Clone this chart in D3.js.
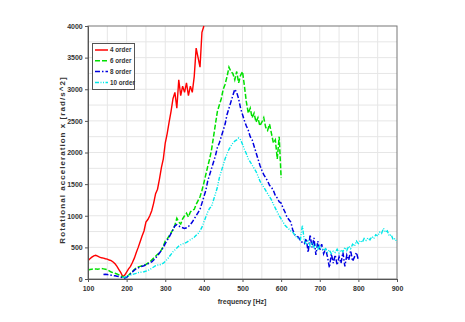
<!DOCTYPE html>
<html><head><meta charset="utf-8">
<script src="https://cdn.jsdelivr.net/npm/d3@7"></script>
<style>body{margin:0;background:#fff;} text{font-family:"Liberation Sans",Arial,sans-serif;}</style>
</head><body><svg id="c" width="465" height="322"></svg>
<script>
const xTicks = [100,200,300,400,500,600,700,800,900];
const yTicks = [0,500,1000,1500,2000,2500,3000,3500,4000];
const seriesNames = ["4 order","6 order","8 order","10 order"];
const seriesColors = ["#ff0000","#00e000","#0000e0","#00e8e8"];

const freq4 = d3.range(100,401,5);
const order4 = [290,320,345,365,375,360,345,335,330,320,315,300,290,270,240,200,150,100,40,60,110,160,200,260,330,420,500,590,680,760,900,940,1000,1080,1200,1350,1420,1580,1760,1900,2150,2300,2480,2650,2850,2950,2700,3150,2900,3050,2950,3100,2900,3050,2950,3200,3650,3500,3350,3900,4000];

const freq6 = d3.range(100,601,5);
const order6 = [140,150,155,160,160,155,160,165,160,155,150,130,110,100,90,80,65,50,35,20,30,60,90,120,150,175,190,200,210,220,230,250,270,300,330,360,390,410,460,520,600,630,680,730,780,850,960,900,870,950,1000,1040,980,1060,1090,1100,1180,1240,1300,1400,1520,1650,1780,1900,2050,2250,2450,2650,2750,2850,3000,3080,3200,3350,3280,3250,3150,3280,3100,3220,3280,3050,2800,2620,2700,2550,2620,2480,2550,2420,2480,2550,2400,2350,2450,2300,2150,2200,1900,2250,1600];

const freq8 = d3.range(140,801,5);
const order8 = [70,75,70,65,60,55,50,45,40,30,20,15,25,50,80,110,140,160,175,190,200,210,230,240,255,270,300,330,370,410,450,500,560,610,660,720,780,840,860,840,820,810,800,810,830,860,900,950,1000,1050,1100,1200,1300,1400,1550,1650,1750,1850,1950,2080,2150,2250,2350,2450,2600,2700,2800,2900,3000,2950,2850,2700,2600,2500,2420,2350,2250,2200,2100,2000,1900,1800,1720,1650,1600,1550,1480,1450,1400,1320,1280,1220,1200,1120,1060,980,940,900,780,700,680,660,600,580,560,640,420,700,500,650,380,600,450,550,400,480,350,180,400,250,380,220,350,250,420,200,380,300,450,280,350,420,300];

const freq10 = d3.range(190,901,5);
const order10 = [25,30,40,50,60,70,80,90,100,105,110,115,125,135,150,170,190,210,220,225,230,250,280,310,350,390,430,460,490,520,540,555,565,580,600,620,640,660,690,720,760,820,900,980,1060,1120,1150,1250,1350,1450,1600,1700,1800,1900,1980,2050,2100,2150,2180,2200,2230,2200,2130,2050,1980,1900,1850,1800,1750,1700,1630,1550,1500,1450,1400,1350,1300,1250,1180,1120,1060,1000,950,900,850,820,790,760,740,700,660,640,620,850,600,560,620,520,580,500,540,470,520,480,450,480,420,460,400,440,420,470,410,460,430,500,450,520,480,550,520,600,560,610,580,640,610,650,620,670,640,700,680,740,720,800,740,760,680,700,620,640,580];

const svg = d3.select("#c");
const L=88,R=397,T=26,B=279;
const x = d3.scaleLinear().domain([100,900]).range([L,R]);
const y = d3.scaleLinear().domain([0,4000]).range([B,T]);

// grid
const gx = d3.range(150,900,50), gy = d3.range(250,4000,250);
svg.append("g").selectAll("line").data(gx).join("line")
  .attr("x1",d=>x(d)).attr("x2",d=>x(d)).attr("y1",T).attr("y2",B)
  .attr("stroke","#e6e6e6").attr("stroke-width",1);
svg.append("g").selectAll("line").data(gy).join("line")
  .attr("y1",d=>y(d)).attr("y2",d=>y(d)).attr("x1",L).attr("x2",R)
  .attr("stroke","#e6e6e6").attr("stroke-width",1);

// frame
svg.append("rect").attr("x",L).attr("y",T).attr("width",R-L).attr("height",B-T)
  .attr("fill","none").attr("stroke","#777").attr("stroke-width",1);

const line = d3.line().x(d=>x(d[0])).y(d=>y(d[1]));
svg.append("clipPath").attr("id","cp").append("rect")
  .attr("x",L).attr("y",T-1).attr("width",R-L).attr("height",B-T+1);
const sets = [[freq4,order4],[freq6,order6],[freq8,order8],[freq10,order10]];
const dashes = [null,"5,2","5,2,1.5,2","4,1.5,1,1.5,1,1.5"];
const widths = [1.4,1.5,1.5,1.4];
const g = svg.append("g").attr("clip-path","url(#cp)");
sets.forEach((s,i)=>{
  g.append("path").datum(s[0].map((f,j)=>[f,s[1][j]]))
   .attr("d",line).attr("fill","none").attr("stroke",seriesColors[i])
   .attr("stroke-width",widths[i]).attr("stroke-dasharray",dashes[i]);
});

// axes
const ax = svg.append("g").attr("transform",`translate(0,${B})`)
  .call(d3.axisBottom(x).tickValues(xTicks).tickSize(3).tickFormat(d3.format("d")));
const ay = svg.append("g").attr("transform",`translate(${L},0)`)
  .call(d3.axisLeft(y).tickValues(yTicks).tickSize(3).tickFormat(d3.format("d")));
[ax,ay].forEach(a=>{
  a.select(".domain").attr("stroke","#555");
  a.selectAll(".tick line").attr("stroke","#555");
  a.selectAll(".tick text").attr("font-size",7).attr("font-weight","bold").attr("fill","#333")
   .attr("font-family","Liberation Sans, Arial, sans-serif");
});
ax.selectAll(".tick text").attr("dy","0.9em");
ay.selectAll(".tick text").attr("dx","0.1em");

svg.append("text").attr("x",242).attr("y",304).attr("text-anchor","middle")
  .attr("font-size",7).attr("font-weight","bold").attr("fill","#333").text("frequency [Hz]");
svg.append("text").attr("transform","translate(65,160) rotate(-90)").attr("text-anchor","middle")
  .attr("font-size",8).attr("font-weight","bold").attr("fill","#333").attr("letter-spacing","1.05")
  .text("Rotational acceleration x [rad/s^2]");

// legend
const lg = svg.append("g");
lg.append("rect").attr("x",92.5).attr("y",43.5).attr("width",42).attr("height",46)
  .attr("fill","#fff").attr("stroke","#555").attr("stroke-width",1);
seriesNames.forEach((n,i)=>{
  const yy = 50 + i*10.8;
  lg.append("line").attr("x1",95).attr("x2",108).attr("y1",yy).attr("y2",yy)
    .attr("stroke",seriesColors[i]).attr("stroke-width",1.5).attr("stroke-dasharray",dashes[i]);
  lg.append("text").attr("x",110).attr("y",yy+2.3).attr("font-size",6.3).attr("font-weight","bold")
    .attr("fill","#333").text(n);
});
</script></body></html>
